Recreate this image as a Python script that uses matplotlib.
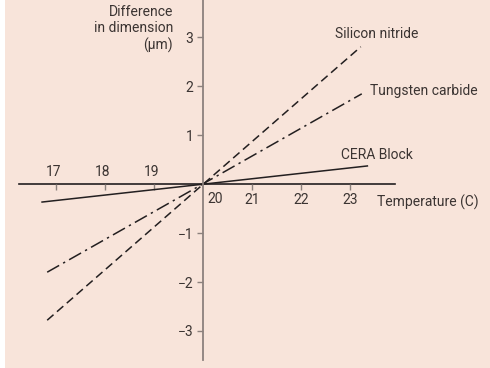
import matplotlib
matplotlib.use("Agg")
import matplotlib.pyplot as plt

# ---- data ----
cera_x = [16.70, 23.37]
cera_y = [-0.37, 0.37]
tung_x = [16.82, 23.24]
tung_y = [-1.80, 1.84]
sin_x = [16.82, 23.22]
sin_y = [-2.78, 2.80]
x_ticks_left = [17, 18, 19]
x_ticks_right = [21, 22, 23]
y_ticks = [-3, -2, -1, 1, 2, 3]
series_labels = ["CERA Block", "Tungsten carbide", "Silicon nitride"]

plt.rcParams["font.family"] = ["Roboto", "DejaVu Sans"]

BG = "#f8e4da"
TXT = "#3b3432"
LINE = "#231f20"
GREY = "#8c817d"
FS = 10

W, H = 490, 368
fig = plt.figure(figsize=(W / 100, H / 100), dpi=100)
fig.patch.set_facecolor("white")
ax = fig.add_axes([5 / W, 0, (W - 5) / W, 1])
ax.set_facecolor(BG)
ppu = 49.0
x0px, y0px = 203, 184
ax.set_xlim(20 - (x0px - 5) / ppu, 20 + (W - x0px) / ppu)
ax.set_ylim(-(H - y0px) / ppu, y0px / ppu)

for s in ["top", "right"]:
    ax.spines[s].set_visible(False)
ax.spines["left"].set_position(("data", 20))
ax.spines["bottom"].set_position(("data", 0))
ax.spines["left"].set_bounds(-(360 - y0px) / ppu, y0px / ppu)
ax.spines["bottom"].set_bounds(20 - (x0px - 19) / ppu, 20 + (395 - x0px) / ppu)
ax.spines["left"].set_color(GREY)
ax.spines["left"].set_linewidth(1.3)
ax.spines["bottom"].set_color(LINE)
ax.spines["bottom"].set_linewidth(1.2)
ax.spines["bottom"].set_zorder(1)

ax.set_xticks(x_ticks_left + x_ticks_right)
ax.set_xticklabels([])
ax.set_yticks(y_ticks)
ax.set_yticklabels([str(v).replace("-", "\u2212") for v in y_ticks])
ax.tick_params(axis="x", direction="out", length=4, width=1, color=GREY)
ax.tick_params(axis="y", direction="out", length=4, width=1, color=GREY,
               labelsize=FS, labelcolor=TXT, pad=3)

for v in x_ticks_left:
    ax.text(v - 0.04, 0.1, str(v), ha="center", va="bottom", fontsize=FS, color=TXT)
for v in x_ticks_right:
    ax.text(v, -0.18, str(v), ha="center", va="top", fontsize=FS, color=TXT)
ax.text(20 + 4 / ppu, -0.17, "20", ha="left", va="top", fontsize=FS, color=TXT)
ax.text(23.55, -0.38, "Temperature (C)", ha="left", va="center", fontsize=FS, color=TXT)
ax.text(20 - 30 / ppu, 3.65, "Difference\nin dimension\n(\u03bcm)", ha="right", va="top",
        fontsize=FS, color=TXT, linespacing=1.2)

ax.plot(cera_x, cera_y, color=LINE, lw=1.1, solid_capstyle="butt")
ax.plot(tung_x, tung_y, color=LINE, lw=1.1, dashes=(9, 3, 1.5, 3))
ax.plot(sin_x, sin_y, color=LINE, lw=1.1, dashes=(5.5, 3))

ax.text(23.55, 0.59, series_labels[0], ha="center", va="center", fontsize=FS, color=TXT)
ax.text(23.40, 1.90, series_labels[1], ha="left", va="center", fontsize=FS, color=TXT)
ax.text(23.55, 3.07, series_labels[2], ha="center", va="center", fontsize=FS, color=TXT)

fig.savefig("out.png", dpi=100, facecolor=fig.get_facecolor())
